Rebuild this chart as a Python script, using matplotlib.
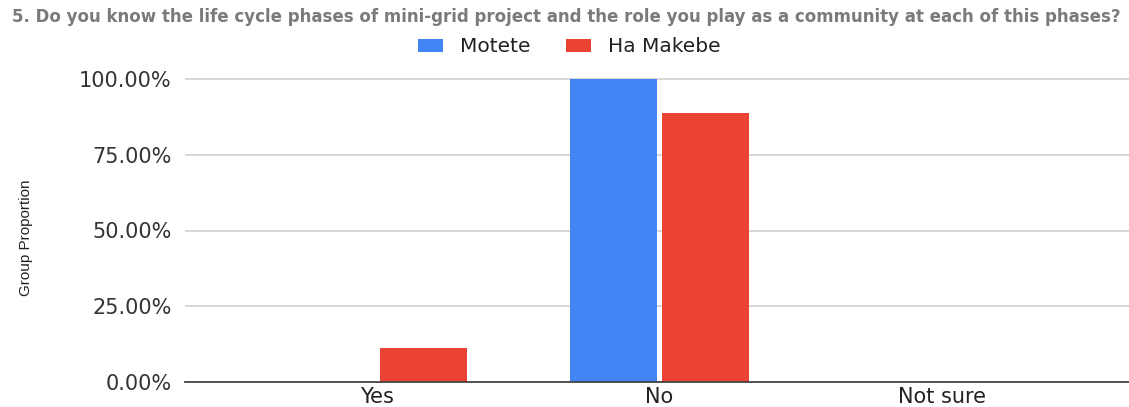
import matplotlib
matplotlib.use("Agg")
import matplotlib.pyplot as plt
import numpy as np
from matplotlib.patches import Patch

title = ("5. Do you know the life cycle phases of mini-grid project and the role "
         "you play as a community at each of this phases?")
categories = ["Yes", "No", "Not sure"]
series_names = ["Motete", "Ha Makebe"]
motete = [0.0, 100.0, 0.0]
ha_makebe = [11.11, 88.89, 0.0]
y_ticks = [0, 25, 50, 75, 100]
y_tick_labels = ["0.00%", "25.00%", "50.00%", "75.00%", "100.00%"]
y_label = "Group Proportion"
colors = ["#4285F4", "#EA4335"]

W, H = 1129, 407
fig = plt.figure(figsize=(W / 100, H / 100), dpi=100)
# plot area: baseline at y=382 px, 100% line at y=79 px
ax = fig.add_axes([185 / W, (H - 382) / H, 944 / W, 303 * 1.01 / H])

x = np.arange(len(categories))
width = 0.308
offset = 0.163
ax.bar(x - offset, motete, width, color=colors[0], zorder=3, label=series_names[0])
ax.bar(x + offset, ha_makebe, width, color=colors[1], zorder=3, label=series_names[1])

ax.set_xlim(-0.68, 2.662)
ax.set_ylim(0, 101)
ax.set_yticks(y_ticks)
ax.set_yticklabels(y_tick_labels)
ax.set_xticks(x)
ax.set_xticklabels(categories)

ax.grid(axis="y", color="#d4d4d4", linewidth=1.3, zorder=0)
for side in ("top", "right", "left"):
    ax.spines[side].set_visible(False)
ax.spines["bottom"].set_color("#444444")
ax.spines["bottom"].set_linewidth(1.3)
ax.spines["bottom"].set_zorder(4)

ax.tick_params(axis="y", length=0, pad=9.5, labelsize=15, labelcolor="#333333")
ax.tick_params(axis="x", length=0, pad=3.5, labelsize=15, labelcolor="#222222")

handles = [Patch(facecolor=c) for c in colors]
fig.legend(handles, series_names, loc="center", bbox_to_anchor=(569 / W, 1 - 47 / H),
           ncol=2, frameon=False, fontsize=14.5, handlelength=1.25, handleheight=0.6,
           handletextpad=0.85, columnspacing=1.75, labelcolor="#222222")

fig.text(26 / W, 1 - 238 / H, y_label, rotation=90, ha="center", va="center",
         fontsize=11, color="#222222",
         family=["Liberation Sans Narrow", "Liberation Sans", "DejaVu Sans"])

fig.text(12 / W, 1 - 17 / H, title, ha="left", va="center", fontsize=12.0,
         color="#7a7a7a", fontweight="bold")

fig.savefig("out.png", dpi=100, facecolor="white")
